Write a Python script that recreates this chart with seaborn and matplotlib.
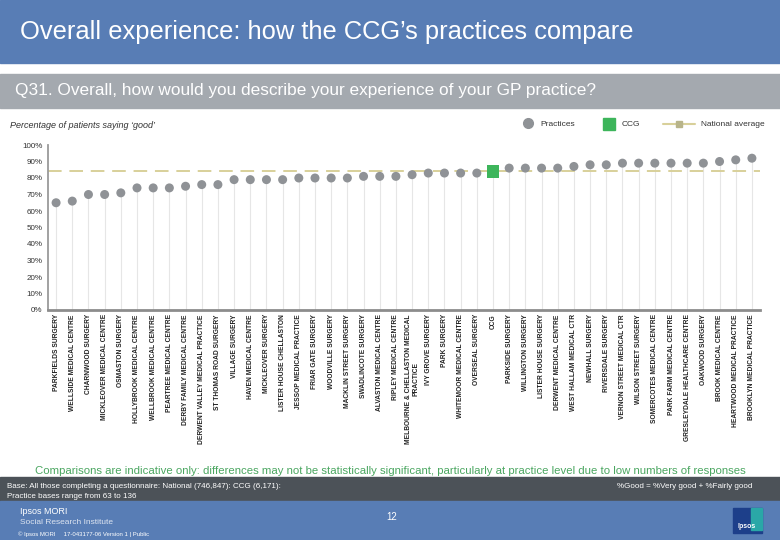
import numpy as np
import pandas as pd
import matplotlib
matplotlib.use('Agg')
import matplotlib.pyplot as plt
from matplotlib.patches import Rectangle
from matplotlib.lines import Line2D
import seaborn as sns

# data
practices = [
    'PARKFIELDS SURGERY', 'WELLSIDE MEDICAL CENTRE', 'CHARNWOOD SURGERY',
    'MICKLEOVER MEDICAL CENTRE', 'OSMASTON SURGERY', 'HOLLYBROOK MEDICAL CENTRE',
    'WELLBROOK MEDICAL CENTRE', 'PEARTREE MEDICAL CENTRE', 'DERBY FAMILY MEDICAL CENTRE',
    'DERWENT VALLEY MEDICAL PRACTICE', 'ST THOMAS ROAD SURGERY', 'VILLAGE SURGERY',
    'HAVEN MEDICAL CENTRE', 'MICKLEOVER SURGERY', 'LISTER HOUSE CHELLASTON',
    'JESSOP MEDICAL PRACTICE', 'FRIAR GATE SURGERY', 'WOODVILLE SURGERY',
    'MACKLIN STREET SURGERY', 'SWADLINCOTE SURGERY', 'ALVASTON MEDICAL CENTRE',
    'RIPLEY MEDICAL CENTRE', 'MELBOURNE & CHELLASTON MEDICAL\nPRACTICE', 'IVY GROVE SURGERY',
    'PARK SURGERY', 'WHITEMOOR MEDICAL CENTRE', 'OVERSEAL SURGERY', 'CCG',
    'PARKSIDE SURGERY', 'WILLINGTON SURGERY', 'LISTER HOUSE SURGERY',
    'DERWENT MEDICAL CENTRE', 'WEST HALLAM MEDICAL CTR', 'NEWHALL SURGERY',
    'RIVERSDALE SURGERY', 'VERNON STREET MEDICAL CTR', 'WILSON STREET SURGERY',
    'SOMERCOTES MEDICAL CENTRE', 'PARK FARM MEDICAL CENTRE', 'GRESLEYDALE HEALTHCARE CENTRE',
    'OAKWOOD SURGERY', 'BROOK MEDICAL CENTRE', 'HEARTWOOD MEDICAL PRACTICE',
    'BROOKLYN MEDICAL PRACTICE',
]
pct_good = [65, 66, 70, 70, 71, 74, 74, 74, 75, 76, 76, 79, 79, 79, 79,
            80, 80, 80, 80, 81, 81, 81, 82, 83, 83, 83, 83, 84,
            86, 86, 86, 86, 87, 88, 88, 89, 89, 89, 89, 89, 89, 90, 91, 92]
national_avg = 84
y_ticks = [0, 10, 20, 30, 40, 50, 60, 70, 80, 90, 100]

df = pd.DataFrame({'name': practices, 'pct': pct_good})
df['kind'] = np.where(df['name'] == 'CCG', 'CCG', 'Practice')

blue = '#587db5'
grey_band = '#a4a9af'
dark_band = '#4c5258'
pt_grey = '#8f9296'
ccg_green = '#3db55b'
nat_col = '#d8d09a'

sns.set_style('white')
plt.rcParams['font.family'] = ['Liberation Sans', 'DejaVu Sans']

fig = plt.figure(figsize=(7.8, 5.4), dpi=100)
W, H = 780, 540


def fx(x):
    return x / W


def fy(y):
    return 1 - y / H


# header bands
fig.add_artist(Rectangle((0, fy(63)), 1, 63 / H, transform=fig.transFigure, color=blue, zorder=0))
fig.add_artist(Rectangle((0, fy(108)), 1, 34 / H, transform=fig.transFigure, color=grey_band, zorder=0))
fig.text(fx(20), fy(32), 'Overall experience: how the CCG\u2019s practices compare', color='white',
         fontsize=18.4, va='center', ha='left')
fig.text(fx(15), fy(91), 'Q31. Overall, how would you describe your experience of your GP practice?',
         color='white', fontsize=12.4, va='center', ha='left')
fig.text(fx(10), fy(125), 'Percentage of patients saying \u2018good\u2019', fontsize=6.5,
         style='italic', va='center', color='#333333')

# legend
fig.add_artist(Line2D([fx(528)], [fy(123)], marker='o', markersize=7, color=pt_grey,
                      transform=fig.transFigure, linestyle='none'))
fig.text(fx(540), fy(124), 'Practices', fontsize=6, va='center', color='#333333')
fig.add_artist(Line2D([fx(609)], [fy(124)], marker='s', markersize=8, color=ccg_green,
                      transform=fig.transFigure, linestyle='none'))
fig.text(fx(622), fy(124), 'CCG', fontsize=6, va='center', color='#333333')
fig.add_artist(Line2D([fx(663), fx(695)], [fy(124), fy(124)], color=nat_col, lw=1.5,
                      transform=fig.transFigure))
fig.add_artist(Line2D([fx(679)], [fy(124)], marker='s', markersize=4, color='#b8b48a',
                      transform=fig.transFigure, linestyle='none'))
fig.text(fx(701), fy(124), 'National average', fontsize=6, va='center', color='#333333')

# chart
ax = fig.add_axes([fx(48), fy(310), (760 - 48) / W, (310 - 145) / H])
x_pos = np.arange(len(df))
ax.vlines(x_pos, 0, df['pct'], color='#e6e6e6', lw=0.8, zorder=1)
ax.axhline(national_avg, color=nat_col, lw=1.4, dashes=(7, 4), zorder=2)
sns.scatterplot(data=df, x='name', y='pct', hue='kind', style='kind', size='kind',
                palette={'Practice': pt_grey, 'CCG': ccg_green},
                markers={'Practice': 'o', 'CCG': 's'},
                sizes={'Practice': 42, 'CCG': 85},
                linewidth=0, legend=False, ax=ax, zorder=3)

ax.set_xlim(-0.5, len(df) - 0.5)
ax.set_ylim(0, 100)
ax.set_yticks(y_ticks)
ax.set_yticklabels([f'{v}%' for v in y_ticks], fontsize=5.8, color='#333333')
ax.set_xticks(x_pos)
ax.set_xticklabels(df['name'], rotation=90, fontsize=4.8, fontweight='bold',
                   ha='center', va='top', multialignment='center', color='#222222')
ax.set_xticks(x_pos[:-1] + 0.5, minor=True)
ax.tick_params(axis='x', which='major', length=0, pad=3)
ax.tick_params(axis='x', which='minor', length=3, width=1, color='#9a9a9a', direction='out')
ax.tick_params(axis='y', length=2, width=1, color='#9a9a9a', pad=2, direction='out')
ax.set_xlabel('')
ax.set_ylabel('')
for s in ['top', 'right']:
    ax.spines[s].set_visible(False)
ax.spines['left'].set_color('#9a9a9a')
ax.spines['left'].set_linewidth(1.3)
ax.spines['bottom'].set_color('#8c8c8c')
ax.spines['bottom'].set_linewidth(2)

# footer
fig.text(0.5, fy(471), 'Comparisons are indicative only: differences may not be statistically significant, '
         'particularly at practice level due to low numbers of responses',
         color='#4aa660', fontsize=8.2, ha='center', va='center')
fig.add_artist(Rectangle((0, fy(501)), 1, 24 / H, transform=fig.transFigure, color=dark_band, zorder=0))
fig.text(fx(7), fy(486), 'Base: All those completing a questionnaire: National (746,847): CCG (6,171):',
         color='white', fontsize=5.8, va='center')
fig.text(fx(7), fy(497), 'Practice bases range from 63 to 136', color='white', fontsize=5.8, va='center')
fig.text(fx(752), fy(486), '%Good = %Very good + %Fairly good', color='white', fontsize=5.8,
         va='center', ha='right')
fig.add_artist(Rectangle((0, 0), 1, 39 / H, transform=fig.transFigure, color=blue, zorder=0))
fig.text(fx(20), fy(511), 'Ipsos MORI', color='white', fontsize=6.5, va='center')
fig.text(fx(20), fy(522), 'Social Research Institute', color='#dde4f0', fontsize=6, va='center')
fig.text(fx(18), fy(534), '\u00a9 Ipsos MORI     17-043177-06 Version 1 | Public', color='white',
         fontsize=4.3, va='center')
fig.text(fx(392), fy(517), '12', color='white', fontsize=7, va='center', ha='center')
fig.add_artist(Rectangle((fx(733), fy(533)), 29 / W, 25 / H, transform=fig.transFigure,
                         color='#1d3f8a', zorder=1))
fig.add_artist(Rectangle((fx(751), fy(530)), 11 / W, 22 / H, transform=fig.transFigure,
                         color='#2aa7a7', zorder=1))
fig.text(fx(747), fy(527), 'Ipsos', color='white', fontsize=5, ha='center', va='center',
         fontweight='bold')

fig.savefig('out.png', dpi=100)
